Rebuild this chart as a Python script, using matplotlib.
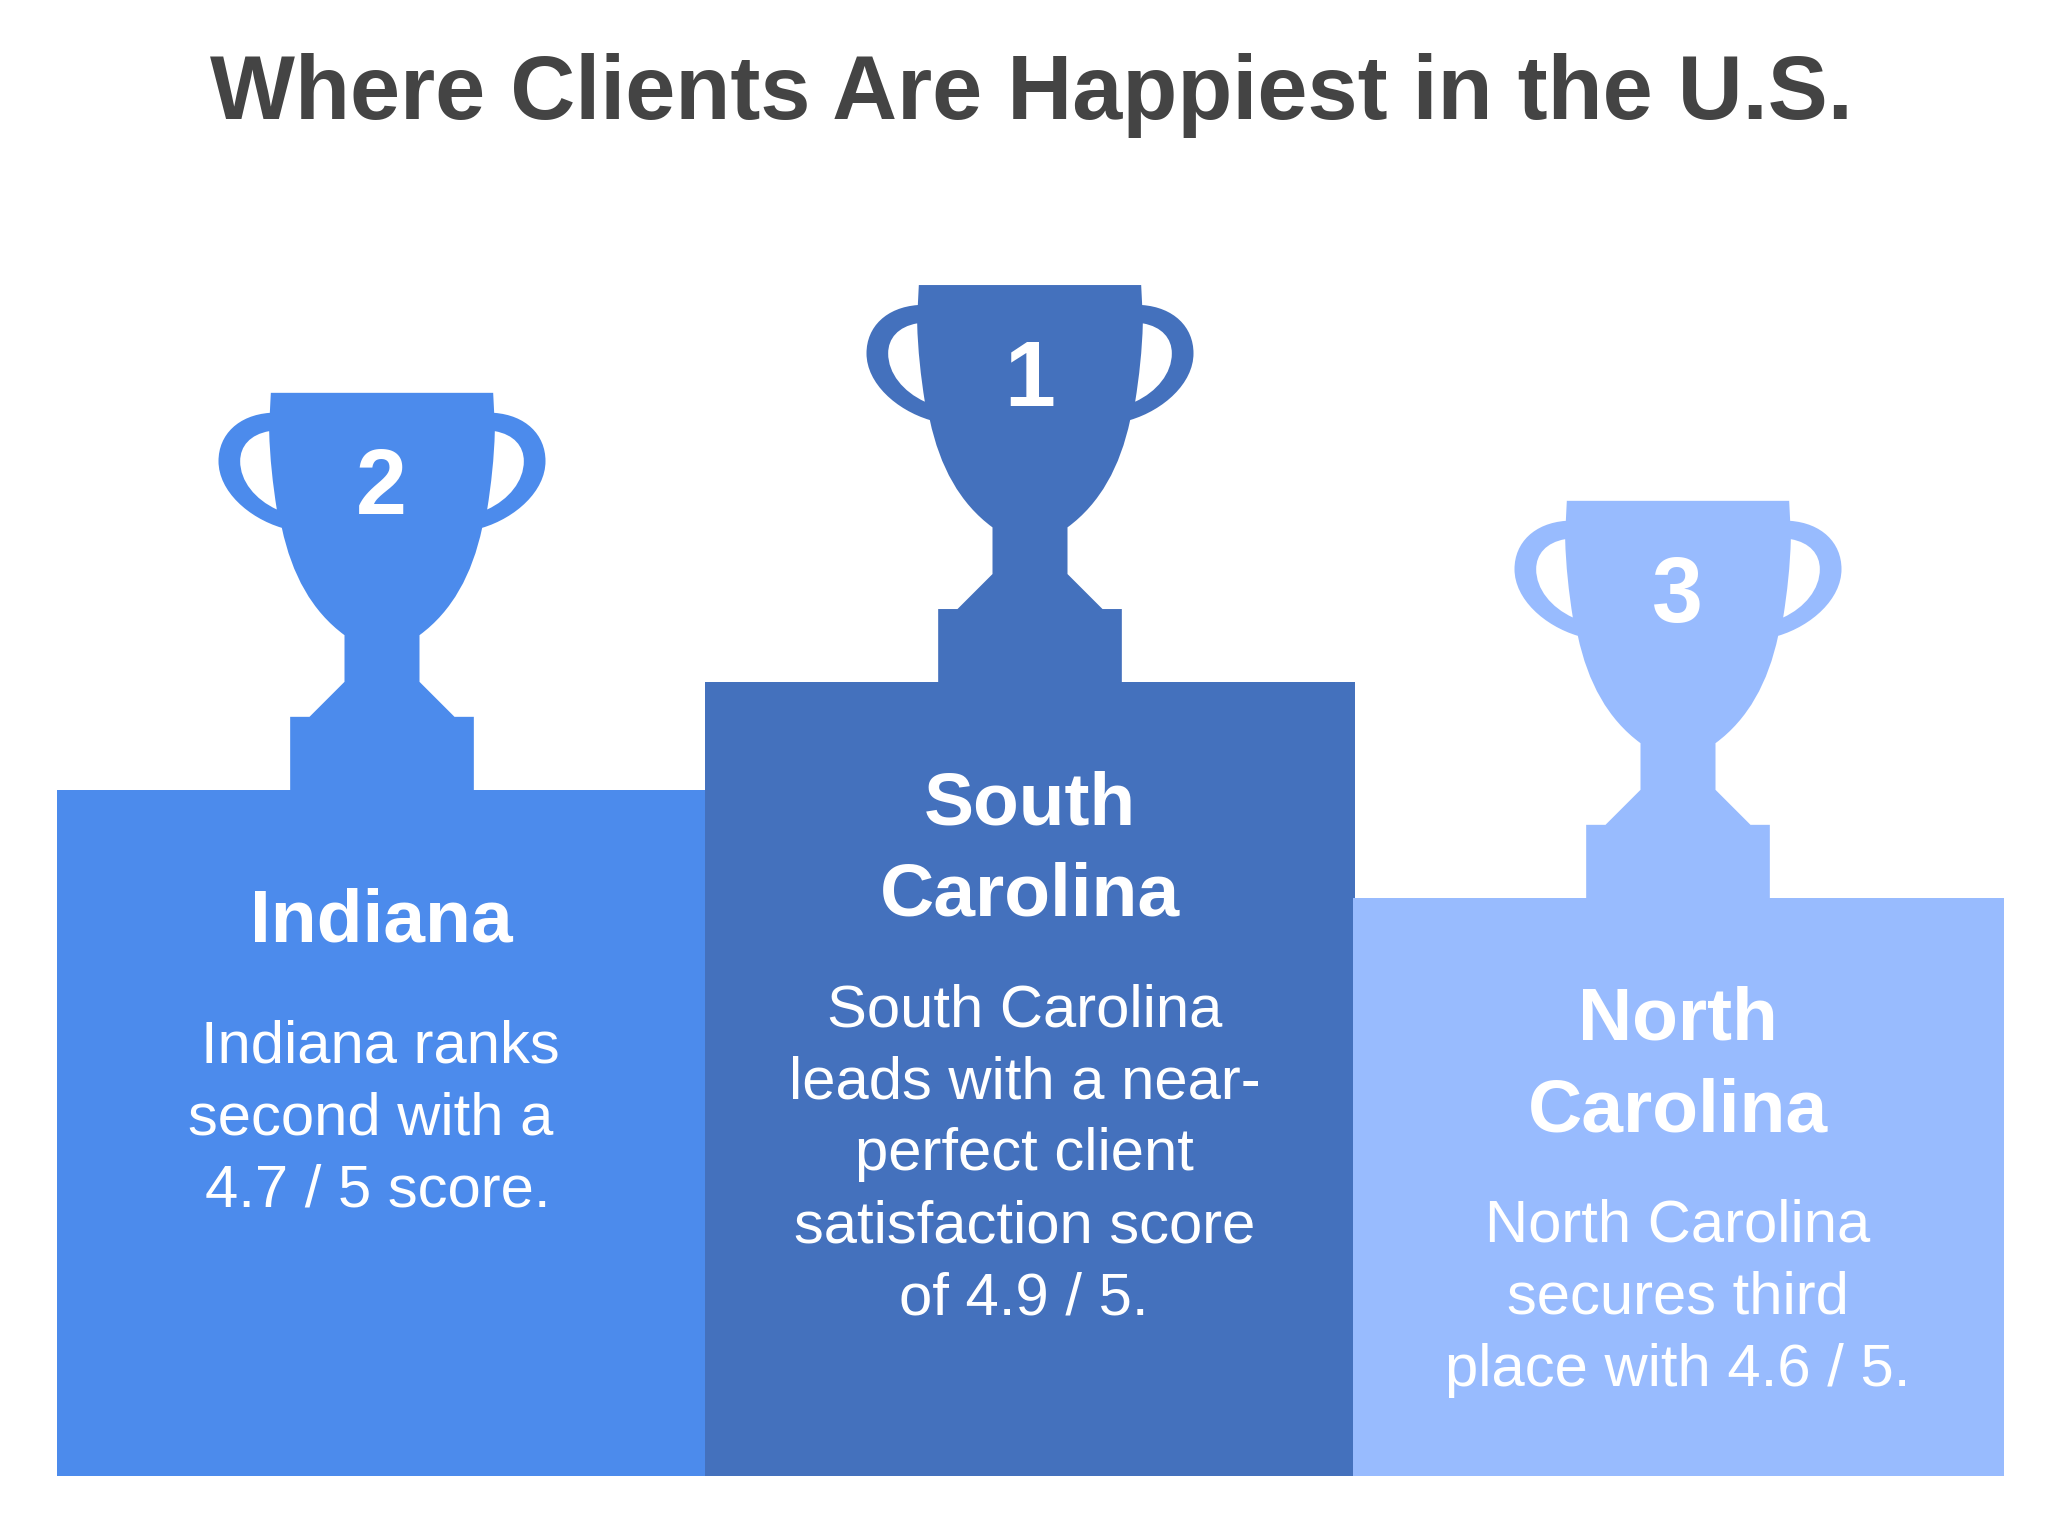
import matplotlib
matplotlib.use("Agg")
import matplotlib.pyplot as plt
from matplotlib.path import Path
from matplotlib.patches import PathPatch

plt.rcParams['font.family'] = ['Liberation Sans', 'DejaVu Sans']

TITLE = "Where Clients Are Happiest in the U.S."
states = ["Indiana", "South Carolina", "North Carolina"]
ranks = ["2", "1", "3"]
name_lines = [["Indiana"], ["South", "Carolina"], ["North", "Carolina"]]
body_lines = [
    ["Indiana ranks", "second with a", "4.7 / 5 score."],
    ["South Carolina", "leads with a near-", "perfect client", "satisfaction score", "of 4.9 / 5."],
    ["North Carolina", "secures third", "place with 4.6 / 5."],
]
colors = ["#4C8BEC", "#4471BD", "#98BBFE"]

# layout, in pixels of the 2056x1530 canvas
left_edges = [56.5, 704.5, 1353]
right_edges = [705, 1355, 2004]
podium_tops = [789.5, 681.7, 897.5]
podium_bottom = 1476
trophy_cx = [382, 1030, 1678]
name_cx = [381.5, 1030, 1677.5]
name_base = [[941], [824.5, 915], [1040, 1131]]
body_cx = [[380.5, 371, 378], [1024.5, 1024.5, 1024.5, 1024.5, 1024], [1677.5, 1677.5, 1677.5]]
body_first = [1062.5, 1026.5, 1242]
body_step = 72


def cup_path():
    s = 3.0
    cx = 569.5
    top = 45
    right = [
        (Path.LINETO, (906, 105)),
        (Path.CURVE4, (1000, 112)), (Path.CURVE4, (1060, 170)), (Path.CURVE4, (1060, 250)),
        (Path.CURVE4, (1060, 340)), (Path.CURVE4, (970, 420)), (Path.CURVE4, (870, 450)),
        (Path.CURVE4, (840, 590)), (Path.CURVE4, (780, 700)), (Path.CURVE4, (682, 772)),
        (Path.LINETO, (682, 912)), (Path.LINETO, (787, 1017)),
        (Path.LINETO, (845, 1017)), (Path.LINETO, (845, 1238)),
    ]
    verts = [(903, 45)]
    codes = [Path.MOVETO]
    for c, v in right:
        verts.append(v)
        codes.append(c)
    # mirror the same outline, walking back up the left side
    mir = [(2 * cx - x, y) for x, y in verts]
    rev = mir[::-1]
    rc = codes[1:][::-1]
    verts.append(rev[0])
    codes.append(Path.LINETO)
    for v, c in zip(rev[1:], rc):
        verts.append(v)
        codes.append(c)
    verts.append((903, 45))
    codes.append(Path.CLOSEPOLY)
    # handle openings wind against the outline so they stay empty
    hole = [(908, 160), (965, 170), (995, 205), (995, 250), (995, 310), (950, 365),
            (885, 395), (897, 320), (906, 240), (908, 160)]
    hc = [Path.MOVETO] + [Path.CURVE4] * 9
    h1 = hole[::-1]
    verts += h1 + [h1[0]]
    codes += hc + [Path.CLOSEPOLY]
    h2 = [(2 * cx - x, y) for x, y in hole]
    verts += h2 + [h2[0]]
    codes += hc + [Path.CLOSEPOLY]
    return [((x - cx) / s, (y - top) / s) for x, y in verts], codes


fig = plt.figure(figsize=(20.56, 15.3), dpi=100, facecolor="white")
ax = fig.add_axes([0, 0, 1, 1])
ax.set_xlim(0, 2056)
ax.set_ylim(1530, 0)
ax.axis("off")

cup_verts, cup_codes = cup_path()
cup_height = 1190 / 3.0

ax.text(1031, 118.5, TITLE, ha="center", va="baseline", fontsize=64.8,
        fontweight="bold", color="#444444")

for i in range(len(states)):
    ax.bar(left_edges[i], podium_bottom - podium_tops[i], right_edges[i] - left_edges[i],
           bottom=podium_tops[i], align="edge", color=colors[i], linewidth=0)
    ttop = podium_tops[i] - cup_height
    p = Path([(trophy_cx[i] + x, ttop + y) for x, y in cup_verts], cup_codes)
    ax.add_patch(PathPatch(p, facecolor=colors[i], edgecolor="none"))
    ax.text(trophy_cx[i] - 0.5, ttop + 121, ranks[i], ha="center", va="baseline", fontsize=66,
            fontweight="bold", color="white")
    for line, y in zip(name_lines[i], name_base[i]):
        ax.text(name_cx[i], y, line, ha="center", va="baseline", fontsize=54,
                fontweight="bold", color="white")
    for j, line in enumerate(body_lines[i]):
        ax.text(body_cx[i][j], body_first[i] + j * body_step, line, ha="center", va="baseline",
                fontsize=43, color="white")

fig.savefig("out.png", dpi=100)
